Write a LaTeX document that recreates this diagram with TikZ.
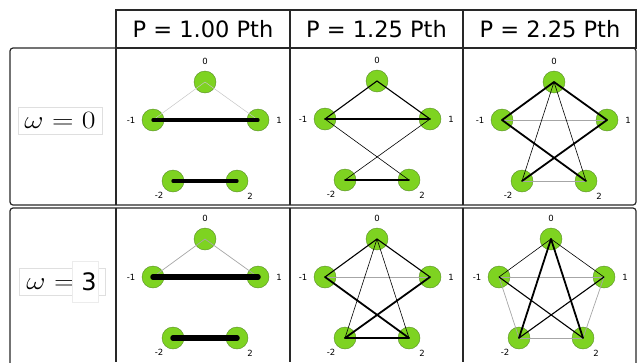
\documentclass[tikz,border=0pt]{standalone}
\usepackage{fontspec}
\newfontfamily\dejavu{DejaVu Sans}
\usetikzlibrary{positioning}
\definecolor{leafgreen}{RGB}{126,211,33}
\definecolor{leafedge}{RGB}{88,140,40}
\definecolor{gridline}{RGB}{40,40,40}

% five vertices of one panel, named #1m2, #1m1, #10, #11, #12
\newcommand{\fivering}[1]{%
  \node[vtx] (#10)  at (0,0)    {};
  \node[vtx] (#1m1) at (-52,38) {};
  \node[vtx] (#11)  at (53,38)  {};
  \node[vtx] (#1m2) at (-32,99) {};
  \node[vtx] (#12)  at (32,99)  {};
  \node[num] at (0,-21)   {0};
  \node[num] at (-74,38)  {-1};
  \node[num] at (74,38)   {1};
  \node[num] at (-46,113) {-2};
  \node[num] at (45,114)  {2};
}

\begin{document}
\begin{tikzpicture}[
    x=1pt, y=-1pt,
    vtx/.style={circle, draw=leafedge, line width=0.4pt, fill=leafgreen,
                minimum size=22pt, inner sep=0pt},
    num/.style={font=\dejavu\fontsize{8.5}{8.5}\selectfont, inner sep=0pt},
    hdr/.style={font=\dejavu\fontsize{22.5}{22.5}\selectfont},
    grid/.style={gridline, line width=1.2pt},
    wbox/.style={draw=gray!25, line width=0.6pt, inner sep=0pt,
                 font=\fontsize{26}{26}\selectfont},
    e1/.style={gray!45, line width=0.5pt},
    e1b/.style={gray!70, line width=0.7pt},
    e2/.style={black, line width=0.6pt},
    e3/.style={black, line width=1.1pt, line cap=round},
    e4/.style={black, line width=1.8pt, line cap=round},
    e5/.style={black, line width=3.3pt, line cap=round},
    e6/.style={black, line width=5.5pt, line cap=round},
  ]
  \useasboundingbox (0,0) rectangle (639,362);

  % Header
  \draw[grid] (116,10) rectangle (636,48);
  \draw[grid] (290,10) -- (290,48) (463,10) -- (463,48);
  \node[hdr] (hA) at (203,29)   {P = 1.00 Pth};
  \node[hdr] (hB) at (376.5,29) {P = 1.25 Pth};
  \node[hdr] (hC) at (550,29)   {P = 2.25 Pth};

  % Rows
  \draw[grid, rounded corners=3pt] (10,48) rectangle (636,205);
  \draw[grid, rounded corners=3pt] (10,208) rectangle (636,380);
  \foreach \x in {116,290,463} {
    \draw[grid] (\x,48) -- (\x,205) (\x,208) -- (\x,362);
  }

  % Row labels
  \node[wbox, minimum width=84pt, minimum height=27pt] (w0) at (60,120.5)
    {\scalebox{1.2}[1]{$\omega = 0$}};
  \node[wbox, minimum width=86pt, minimum height=27pt] (w3) at (62,281.5)
    {\scalebox{1.2}[1]{$\omega = \phantom{0}$}};
  \node[draw=gray!15, fill=white, minimum width=26pt, minimum height=41pt,
        inner sep=0pt, font=\dejavu\fontsize{24}{24}\selectfont]
    (w3n) at (85,281.5) {\hspace*{8pt}3};

  % Row 1, P = 1.00
  \begin{scope}[shift={(205,82)}]
    \fivering{A}
  \end{scope}
  \foreach \u/\v/\w in {0/m1/e1, 0/1/e1, m1/1/e5, m2/2/e5}
    \draw[\w] (A\u.center) -- (A\v.center);

  % Row 1, P = 1.25
  \begin{scope}[shift={(377,81)}]
    \fivering{B}
  \end{scope}
  \foreach \u/\v/\w in {0/m1/e3, 0/1/e3, m1/2/e2, 1/m2/e2, m1/1/e4, m2/2/e4}
    \draw[\w] (B\u.center) -- (B\v.center);

  % Row 1, P = 2.25
  \begin{scope}[shift={(554,82)}]
    \fivering{C}
  \end{scope}
  \foreach \u/\v/\w in {m1/1/e1b, m2/2/e1b, 0/m2/e2, 0/2/e2,
                        0/m1/e4, 0/1/e4, m1/2/e4, 1/m2/e4}
    \draw[\w] (C\u.center) -- (C\v.center);

  % Row 2, P = 1.00
  \begin{scope}[shift={(205,239)}]
    \fivering{D}
  \end{scope}
  \foreach \u/\v/\w in {0/m1/e1b, 0/1/e1b, m1/1/e6, m2/2/e6}
    \draw[\w] (D\u.center) -- (D\v.center);

  % Row 2, P = 1.25
  \begin{scope}[shift={(377,239)}]
    \fivering{E}
  \end{scope}
  \foreach \u/\v/\w in {m1/1/e1b, 0/m2/e2, 0/2/e2, 0/m1/e3, 0/1/e3,
                        m1/2/e4, 1/m2/e4, m2/2/e4}
    \draw[\w] (E\u.center) -- (E\v.center);

  % Row 2, P = 2.25
  \begin{scope}[shift={(551,239)}]
    \fivering{F}
  \end{scope}
  \foreach \u/\v/\w in {m1/1/e1b, m1/m2/e1b, 1/2/e1b, 0/m1/e2, 0/1/e2,
                        m2/2/e1b, m1/2/e3, 1/m2/e3, 0/m2/e4, 0/2/e4}
    \draw[\w] (F\u.center) -- (F\v.center);

\end{tikzpicture}
\end{document}
